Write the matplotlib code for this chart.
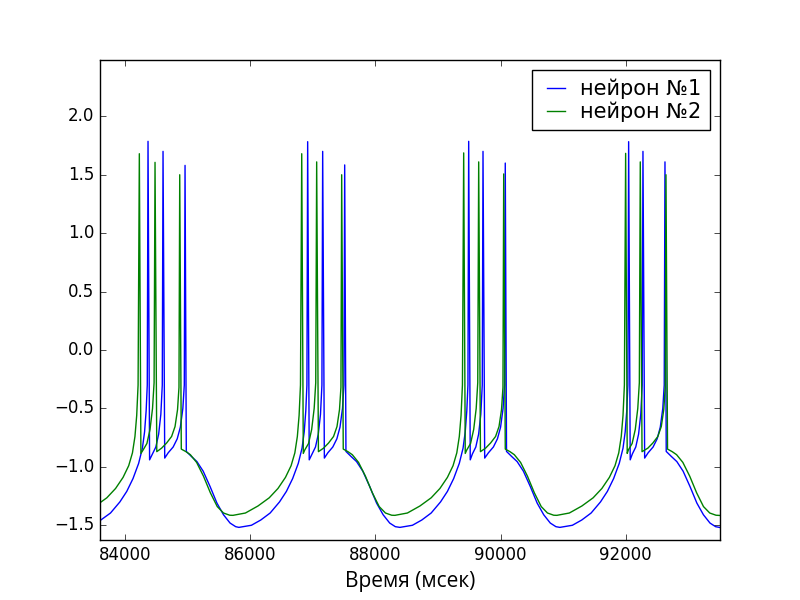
import matplotlib
matplotlib.use("Agg")
import matplotlib.pyplot as plt

# neuron 1 (blue) trace, keypoints: time (ms), value
n1_t = [83595,
        83763, 83913, 84023, 84123, 84213, 84273, 84308, 84333, 84351, 84363,
        84388, 84433, 84488, 84533, 84568, 84591, 84603,
        84630, 84685, 84765, 84830, 84880, 84920, 84943, 84955,
        84975, 85055, 85145, 85245, 85355, 85465, 85570, 85675, 85765,
        85816, 86016, 86166, 86316, 86466, 86576, 86676, 86766, 86826, 86861, 86886, 86904, 86916,
        86941, 86986, 87041, 87086, 87121, 87144, 87156,
        87183, 87238, 87318, 87383, 87433, 87473, 87496, 87508,
        87528, 87608, 87698, 87798, 87908, 88018, 88123, 88228, 88318,
        88391, 88591, 88741, 88891, 89041, 89151, 89251, 89341, 89401, 89436, 89461, 89479, 89491,
        89516, 89550, 89605, 89650, 89685, 89708, 89720,
        89747, 89806, 89886, 89951, 90001, 90041, 90064, 90076,
        90096, 90176, 90266, 90366, 90476, 90586, 90691, 90796, 90886,
        90949, 91149, 91299, 91449, 91599, 91709, 91809, 91899, 91959, 91994, 92019, 92037, 92049,
        92074, 92108, 92163, 92208, 92243, 92266, 92278,
        92305, 92360, 92440, 92505, 92555, 92595, 92618, 92630,
        92650, 92730, 92820, 92920, 93030, 93140, 93245, 93350, 93440, 93510]
n1_v = [-1.46,
        -1.395, -1.30, -1.21, -1.10, -0.97, -0.84, -0.70, -0.52, -0.30, 1.786,
        -0.94, -0.89, -0.83, -0.72, -0.55, -0.30, 1.70,
        -0.925, -0.88, -0.83, -0.76, -0.66, -0.50, -0.30, 1.58,
        -0.868, -0.91, -0.955, -1.037, -1.168, -1.31, -1.41, -1.481, -1.512,
        -1.518, -1.50, -1.455, -1.395, -1.30, -1.21, -1.10, -0.97, -0.84, -0.70, -0.52, -0.30, 1.783,
        -0.94, -0.89, -0.83, -0.72, -0.55, -0.30, 1.70,
        -0.925, -0.88, -0.83, -0.76, -0.66, -0.50, -0.30, 1.584,
        -0.868, -0.91, -0.955, -1.037, -1.168, -1.31, -1.41, -1.481, -1.512,
        -1.518, -1.50, -1.455, -1.395, -1.30, -1.21, -1.10, -0.97, -0.84, -0.70, -0.52, -0.30, 1.786,
        -0.94, -0.89, -0.83, -0.72, -0.55, -0.30, 1.70,
        -0.925, -0.88, -0.83, -0.76, -0.66, -0.50, -0.30, 1.60,
        -0.868, -0.91, -0.955, -1.037, -1.168, -1.31, -1.41, -1.481, -1.512,
        -1.518, -1.50, -1.455, -1.395, -1.30, -1.21, -1.10, -0.97, -0.84, -0.70, -0.52, -0.30, 1.783,
        -0.94, -0.89, -0.83, -0.72, -0.55, -0.30, 1.70,
        -0.925, -0.88, -0.83, -0.76, -0.66, -0.50, -0.30, 1.61,
        -0.868, -0.91, -0.955, -1.037, -1.168, -1.31, -1.41, -1.481, -1.512, -1.519]

# neuron 2 (green) trace
n2_t = [83595,
        83704, 83844, 83964, 84054, 84114, 84154, 84182, 84204, 84224,
        84249, 84285, 84345, 84395, 84435, 84460, 84475,
        84503, 84580, 84660, 84740, 84795, 84835, 84858, 84870,
        84895, 84970, 85040, 85140, 85250, 85360, 85470, 85570, 85670,
        85721, 85921, 86121, 86301, 86441, 86561, 86651, 86711, 86751, 86779, 86801, 86821,
        86846, 86870, 86930, 86980, 87020, 87045, 87060,
        87088, 87170, 87250, 87330, 87385, 87425, 87448, 87460,
        87485, 87560, 87630, 87730, 87840, 87950, 88060, 88160, 88260,
        88311, 88511, 88711, 88891, 89031, 89151, 89241, 89301, 89341, 89369, 89391, 89411,
        89436, 89461, 89521, 89571, 89611, 89636, 89651,
        89679, 89761, 89841, 89921, 89976, 90016, 90039, 90051,
        90076, 90151, 90221, 90321, 90431, 90541, 90651, 90751, 90851,
        90901, 91101, 91301, 91481, 91621, 91741, 91831, 91891, 91931, 91959, 91981, 92001,
        92026, 92045, 92105, 92155, 92195, 92220, 92235,
        92263, 92356, 92436, 92516, 92571, 92611, 92634, 92646,
        92671, 92746, 92816, 92916, 93026, 93136, 93246, 93346, 93446, 93510]
n2_v = [-1.307,
        -1.265, -1.185, -1.09, -0.99, -0.88, -0.74, -0.56, -0.30, 1.68,
        -0.885, -0.855, -0.80, -0.68, -0.50, -0.28, 1.606,
        -0.87, -0.84, -0.796, -0.74, -0.655, -0.51, -0.32, 1.50,
        -0.848, -0.87, -0.896, -0.962, -1.08, -1.222, -1.34, -1.395, -1.414,
        -1.415, -1.395, -1.335, -1.265, -1.185, -1.09, -0.99, -0.88, -0.74, -0.56, -0.30, 1.68,
        -0.885, -0.855, -0.80, -0.68, -0.50, -0.28, 1.61,
        -0.87, -0.84, -0.796, -0.74, -0.655, -0.51, -0.32, 1.50,
        -0.848, -0.87, -0.896, -0.962, -1.08, -1.222, -1.34, -1.395, -1.414,
        -1.415, -1.395, -1.335, -1.265, -1.185, -1.09, -0.99, -0.88, -0.74, -0.56, -0.30, 1.687,
        -0.885, -0.855, -0.80, -0.68, -0.50, -0.28, 1.61,
        -0.87, -0.84, -0.796, -0.74, -0.655, -0.51, -0.32, 1.507,
        -0.848, -0.87, -0.896, -0.962, -1.08, -1.222, -1.34, -1.395, -1.414,
        -1.415, -1.395, -1.335, -1.265, -1.185, -1.09, -0.99, -0.88, -0.74, -0.56, -0.30, 1.683,
        -0.885, -0.855, -0.80, -0.68, -0.50, -0.28, 1.61,
        -0.87, -0.84, -0.796, -0.74, -0.655, -0.51, -0.32, 1.50,
        -0.848, -0.87, -0.896, -0.962, -1.08, -1.222, -1.34, -1.395, -1.414, -1.416]

labels = ["нейрон №1", "нейрон №2"]

plt.style.use('classic')
fig, ax = plt.subplots(figsize=(8, 6))

ax.plot(n1_t, n1_v, color='b', lw=1.0, label=labels[0])
ax.plot(n2_t, n2_v, color='g', lw=1.0, label=labels[1])

ax.set_xlim(83595, 93510)
ax.set_ylim(-1.626, 2.482)
ax.xaxis.get_major_formatter().set_useOffset(False)

ax.set_xlabel("Время (мсек)", fontsize=15, family=["Open Sans", "DejaVu Sans"])
ax.legend(loc="upper right", prop={"size": 15}, handlelength=1.5,
          handletextpad=0.4, borderpad=0.4, labelspacing=0.1)

fig.savefig("out.png", dpi=100, facecolor="white")
